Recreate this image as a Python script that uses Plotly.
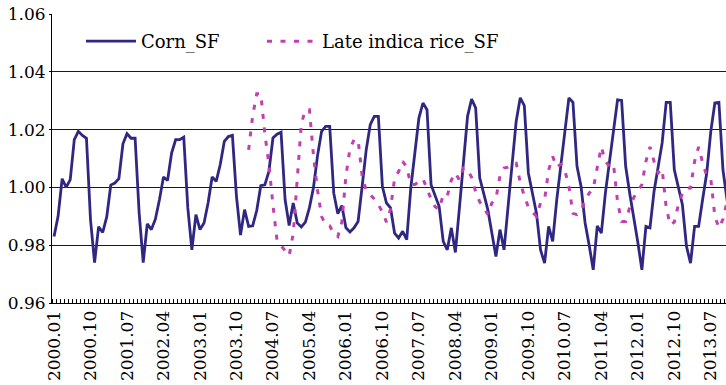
import plotly.graph_objects as go

# Monthly seasonal factors, 2000.01 - 2013.12
years = list(range(2000, 2014))
months = [f"{y}.{m:02d}" for y in years for m in range(1, 13)]

corn_sf = [
    0.983, 0.990, 1.003, 1.000, 1.0027, 1.0165, 1.0194, 1.018, 1.017, 0.9888, 0.974, 0.9864,
    0.9844, 0.9898, 1.0008, 1.0015, 1.003, 1.0151, 1.0186, 1.017, 1.017, 0.9911, 0.974, 0.9874,
    0.9854, 0.989, 0.9957, 1.0036, 1.0024, 1.0119, 1.0165, 1.0165, 1.0174, 0.9929, 0.9784, 0.9906,
    0.9854, 0.9877, 0.9946, 1.0036, 1.0021, 1.0079, 1.0159, 1.0176, 1.018, 0.9969, 0.9835, 0.9923,
    0.9865, 0.9867, 0.992, 1.0006, 1.0009, 1.0055, 1.0171, 1.0184, 1.0191, 0.9957, 0.9868, 0.9946,
    0.9877, 0.9863, 0.988, 0.993, 1.000, 1.011, 1.0194, 1.0211, 1.0211, 0.998, 0.9909, 0.9937,
    0.986, 0.9846, 0.986, 0.9882, 1.0003, 1.013, 1.0217, 1.0246, 1.0246, 1.0003, 0.9946, 0.9929,
    0.9842, 0.9825, 0.9848, 0.9819, 0.9998, 1.012, 1.024, 1.0292, 1.0269, 1.0009, 0.997, 0.9934,
    0.9813, 0.9784, 0.986, 0.9775, 0.993, 1.009, 1.0246, 1.0306, 1.0275, 1.0033, 0.998, 0.9923,
    0.9842, 0.9761, 0.9854, 0.9784, 0.9934, 1.008, 1.0229, 1.031, 1.0283, 1.005, 0.998, 0.9911,
    0.9784, 0.9738, 0.9865, 0.9813, 0.9957, 1.008, 1.0206, 1.031, 1.0294, 1.0073, 1.0003, 0.9877,
    0.980, 0.9715, 0.9867, 0.9842, 0.998, 1.009, 1.0194, 1.0303, 1.0301, 1.0073, 0.998, 0.990,
    0.981, 0.9715, 0.9865, 0.986, 0.9986, 1.007, 1.0154, 1.0294, 1.0294, 1.0061, 1.000, 0.994,
    0.9796, 0.9738, 0.9865, 0.9865, 0.996, 1.005, 1.0194, 1.0292, 1.0294, 1.0061, 0.9957, 0.990,
]

# Late indica rice series begins in 2004.01
rice_sf = [None] * 48 + [
    1.013, 1.0248, 1.0324, 1.0324, 1.0186, 1.008, 0.994, 0.9817, 0.9798, 0.978, 0.9764, 0.984,
    1.003, 1.022, 1.0269, 1.0269, 1.011, 0.999, 0.990, 0.987, 0.9867, 0.984, 0.983, 0.988,
    1.004, 1.0135, 1.0165, 1.0165, 1.004, 0.999, 0.9975, 0.996, 0.994, 0.9915, 0.988, 0.9925,
    1.003, 1.0055, 1.009, 1.007, 1.001, 1.001, 1.002, 1.003, 0.9995, 0.996, 0.9933, 0.9924,
    0.9975, 0.997, 1.0025, 1.005, 1.0025, 1.0067, 1.006, 1.0035, 0.9985, 0.995, 0.993, 0.9906,
    0.9946, 0.9961, 1.004, 1.0067, 1.007, 1.0082, 1.0084, 1.0017, 0.997, 0.9932, 0.9915, 0.990,
    0.9946, 0.9957, 1.006, 1.0107, 1.007, 1.008, 1.006, 1.0003, 0.991, 0.9906, 0.992, 0.9955,
    0.998, 0.9995, 1.007, 1.014, 1.009, 1.0073, 1.008, 0.995, 0.9882, 0.9882, 0.9931, 0.9965,
    0.9987, 1.001, 1.009, 1.014, 1.009, 1.005, 1.0064, 0.993, 0.987, 0.988, 0.994, 0.998,
    0.9998, 0.9998, 1.009, 1.014, 1.0085, 1.004, 1.003, 0.990, 0.986, 0.989, 0.995, 0.998,
]

tick_step = 9
tick_idx = list(range(0, len(months), tick_step))
tick_text = [months[i] for i in tick_idx]
x_idx = list(range(len(months)))

FONT = "DejaVu Serif"

fig = go.Figure()
fig.add_trace(go.Scatter(
    x=x_idx, y=corn_sf, name="Corn_SF", mode="lines", legend="legend",
    line=dict(color="#302782", width=2.8),
))
fig.add_trace(go.Scatter(
    x=x_idx, y=rice_sf, name="Late indica rice_SF", mode="lines", legend="legend2",
    line=dict(color="#C040B0", width=3, dash="5px,8.5px"),
))

legend_common = dict(
    orientation="h", y=0.905, xanchor="left", yanchor="middle",
    bgcolor="rgba(0,0,0,0)", itemwidth=50,
    font=dict(family=FONT, size=18, color="black"),
)
fig.update_layout(
    width=726, height=385,
    margin=dict(l=52, r=0, t=14, b=82),
    paper_bgcolor="white", plot_bgcolor="white",
    font=dict(family=FONT, size=17, color="black"),
    showlegend=True,
    legend=dict(x=0.043, **legend_common),
    legend2=dict(x=0.3116, **legend_common),
)
fig.update_xaxes(
    range=[-0.5, 165.75],
    tickmode="array", tickvals=tick_idx, ticktext=tick_text, tickangle=-90,
    ticks="", showgrid=False, zeroline=False,
    showline=True, linecolor="black", linewidth=1,
    minor=dict(ticks="inside", tick0=-0.5, dtick=1, ticklen=4, tickcolor="black", tickwidth=1, showgrid=False),
    tickfont=dict(family=FONT, size=17, color="black"),
)
fig.update_yaxes(
    range=[0.96, 1.06], dtick=0.02, tick0=0.96, tickformat=".2f",
    showgrid=True, gridcolor="#1a1a1a", gridwidth=1, zeroline=False,
    showline=True, linecolor="black", linewidth=1,
    ticks="outside", ticklen=2, tickcolor="black",
    tickfont=dict(family=FONT, size=17, color="black"),
)

fig.write_html("out.html")
